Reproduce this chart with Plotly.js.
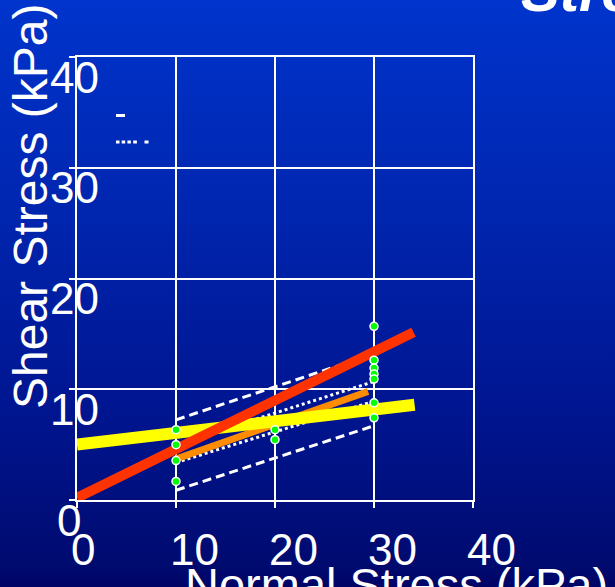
<!DOCTYPE html>
<html>
<head>
<meta charset="utf-8">
<script src="https://cdn.plot.ly/plotly-3.0.1.min.js"></script>
<style>
  html, body { margin: 0; padding: 0; width: 615px; height: 587px; overflow: hidden; }
  body { background: linear-gradient(to bottom, #0034CC 0%, #0026B0 35%, #001590 70%, #000B70 96%, #000466 100%); }
  #chart { width: 615px; height: 587px; }
</style>
</head>
<body>
<div id="chart"></div>
<script>
// ---- data ----
const pointsX = [10, 10, 10, 10, 20, 20, 30, 30, 30, 30, 30, 30, 30];
const pointsY = [6.35, 5.0, 3.56, 1.68, 6.35, 5.45, 15.68, 12.62, 11.91, 11.37, 10.92, 8.77, 7.42];

const redX = [0, 34];        const redY = [0.2, 15.15];
const yellowX = [0, 34.1];   const yellowY = [5.0, 8.6];
const orangeX = [10, 29.4];  const orangeY = [3.7, 9.8];
const upperDashX = [10, 30]; const upperDashY = [7.24, 13.2];
const lowerDashX = [10, 30]; const lowerDashY = [0.88, 6.7];
const dotAX = [10, 30];      const dotAY = [3.38, 8.92];
const dotBX = [10, 30];      const dotBY = [5.0, 10.7];

const xTickVals = [0, 10, 20, 30, 40];
const xTickText = ['0', '10', '20', '30', '40'];
const yTickVals = [0, 10, 20, 30, 40];
const yTickText = ['0', '10', '20', '30', '40'];

const xTitle = 'Normal Stress (kPa)';
const yTitle = 'Shear Stress (kPa)';
const chartTitle = 'Strength Envelope';

// ---- layout geometry ----
const W = 615, H = 587;
const L = 77, T = 57, R = 473, B = 500;
const PW = R - L, PH = B - T;
const px2x = p => (p - L) / PW;
const px2y = p => (B - p) / PH;
const FONT = '"Liberation Sans", Arial, sans-serif';

const traces = [
  {x: upperDashX, y: upperDashY, mode: 'lines', line: {color: '#FFFFFF', width: 3, dash: '9px,5px'}},
  {x: lowerDashX, y: lowerDashY, mode: 'lines', line: {color: '#FFFFFF', width: 3, dash: '9px,5px'}},
  {x: dotAX, y: dotAY, mode: 'lines', line: {color: '#FFFFFF', width: 3, dash: '3px,3px'}},
  {x: dotBX, y: dotBY, mode: 'lines', line: {color: '#FFFFFF', width: 3, dash: '3px,3px'}},
  {x: orangeX, y: orangeY, mode: 'lines', line: {color: '#FF8C00', width: 7}},
  {x: yellowX, y: yellowY, mode: 'lines', line: {color: '#FFFF00', width: 12}},
  {x: redX, y: redY, mode: 'lines', line: {color: '#FF3300', width: 10}},
  {x: pointsX, y: pointsY, mode: 'markers', cliponaxis: false,
   marker: {symbol: 'circle', size: 8, color: '#00FF00', line: {color: '#FFFFFF', width: 1.5}}}
];

const annotations = [];
// x tick labels
xTickVals.forEach((v, i) => {
  annotations.push({
    x: v, xref: 'x', xanchor: 'left', xshift: -8,
    y: 0, yref: 'paper', yanchor: 'top', yshift: -23,
    text: xTickText[i], showarrow: false,
    font: {family: FONT, size: 44, color: '#FFFFFF'}
  });
});
// y tick labels
yTickVals.forEach((v, i) => {
  const rightPx = yTickText[i].length > 1 ? 101 : 83;
  annotations.push({
    x: px2x(rightPx), xref: 'paper', xanchor: 'right',
    y: v, yref: 'y', yanchor: 'middle', yshift: -20,
    text: yTickText[i], showarrow: false,
    font: {family: FONT, size: 44, color: '#FFFFFF'}
  });
});
// axis titles
annotations.push({
  x: px2x(183), xref: 'paper', xanchor: 'left',
  y: px2y(556), yref: 'paper', yanchor: 'top',
  text: xTitle, showarrow: false,
  font: {family: FONT, size: 47, color: '#FFFFFF'}
});
annotations.push({
  x: px2x(31), xref: 'paper', xanchor: 'center',
  y: px2y(207), yref: 'paper', yanchor: 'middle',
  text: yTitle, textangle: -90, showarrow: false,
  font: {family: FONT, size: 48, color: '#FFFFFF'}
});
// chart title (cut off at top right)
annotations.push({
  x: px2x(519), xref: 'paper', xanchor: 'left',
  y: px2y(25), yref: 'paper', yanchor: 'bottom',
  text: '<b><i>' + chartTitle + '</i></b>', showarrow: false,
  font: {family: FONT, size: 58, color: '#FFFFFF'}
});

const shapes = [
  {type: 'line', xref: 'paper', yref: 'paper', x0: px2x(116), x1: px2x(125), y0: px2y(115.5), y1: px2y(115.5),
   line: {color: '#FFFFFF', width: 3}},
  {type: 'line', xref: 'paper', yref: 'paper', x0: px2x(116), x1: px2x(149), y0: px2y(142), y1: px2y(142),
   line: {color: '#FFFFFF', width: 3, dash: '3.5px,2.2px,3.5px,2.2px,3.5px,2.3px,3.7px,7.6px,4px'}}
];

const axisCommon = {
  range: [0, 40], tickvals: xTickVals, showticklabels: false,
  showgrid: true, gridcolor: '#FFFFFF', gridwidth: 2,
  showline: true, linecolor: '#FFFFFF', linewidth: 2, mirror: true,
  ticks: 'outside', ticklen: 6, tickwidth: 2, tickcolor: '#FFFFFF',
  zeroline: false, fixedrange: true
};

const layout = {
  width: W, height: H,
  margin: {l: L, r: W - R, t: T, b: H - B, pad: 0},
  paper_bgcolor: 'rgba(0,0,0,0)',
  plot_bgcolor: 'rgba(0,0,0,0)',
  showlegend: false,
  xaxis: Object.assign({}, axisCommon, {tickvals: xTickVals}),
  yaxis: Object.assign({}, axisCommon, {tickvals: yTickVals}),
  annotations: annotations,
  shapes: shapes,
  font: {family: FONT, color: '#FFFFFF'}
};

Plotly.newPlot('chart', traces, layout, {staticPlot: true, displayModeBar: false});
</script>
</body>
</html>
